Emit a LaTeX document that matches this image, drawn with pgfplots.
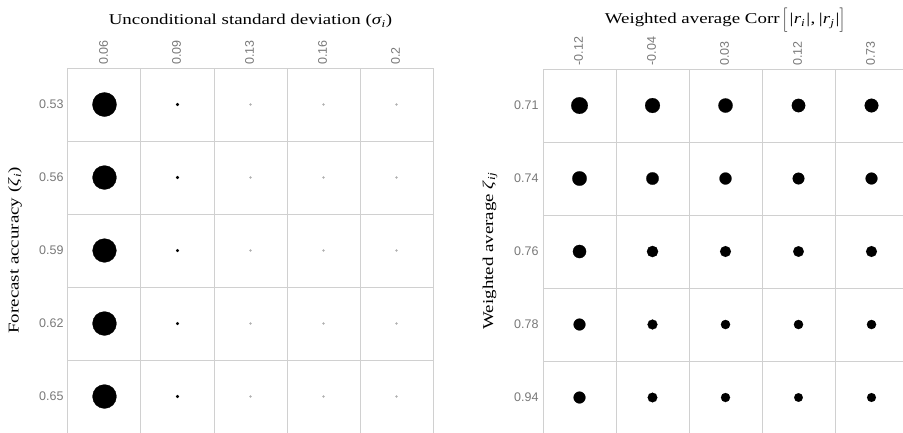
\documentclass[border=0pt]{standalone}
\usepackage{fontspec}
\setmainfont{Liberation Serif}
\newfontfamily\labelfont[FakeStretch=1.26]{Liberation Serif}
\newfontfamily\ticksf{Liberation Sans}
\usepackage{pgfplots}
\pgfplotsset{compat=1.18}
\usepackage{pgfplotstable}

\definecolor{gridgray}{RGB}{208,208,208}
\definecolor{tickgray}{RGB}{120,120,120}
\definecolor{dotgray}{RGB}{175,175,175}

% tall square bracket centred on the math axis
\newcommand\tallbr[1]{\left#1\vcenter{\hbox{\rule{0pt}{20pt}}}\right.}

% bubble radii (pt) per cell: x = column index, y = row index
\pgfplotstableread{
x y r
0 0 12.1
0 1 12.0
0 2 11.9
0 3 12.0
0 4 12.0
1 0 1.6
1 1 1.6
1 2 1.5
1 3 1.5
1 4 1.6
}\leftblack
\pgfplotstableread{
x y r
2 0 1.1
2 1 1.1
2 2 1.1
2 3 1.1
2 4 1.1
3 0 1.1
3 1 1.1
3 2 1.1
3 3 1.1
3 4 1.1
4 0 1.1
4 1 1.1
4 2 1.1
4 3 1.1
4 4 1.1
}\leftgray
\pgfplotstableread{
x y r
0 0 8.3
1 0 7.4
2 0 7.1
3 0 6.7
4 0 6.8
0 1 7.2
1 1 6.2
2 1 6.0
3 1 5.8
4 1 5.9
0 2 6.6
1 2 5.6
2 2 5.4
3 2 5.3
4 2 5.4
0 3 5.9
1 3 4.9
2 3 4.6
3 3 4.6
4 3 4.6
0 4 5.9
1 4 4.8
2 4 4.5
3 4 4.3
4 4 4.4
}\rightblack

\pgfplotsset{
  bubblegrid/.style={
    scale only axis,
    width=365pt, height=372.3pt,
    xmin=-0.5, xmax=4.5, ymin=-0.5, ymax=4.6,
    y dir=reverse,
    xtick={0,1,2,3,4}, ytick={0,1,2,3,4},
    minor xtick={0.5,1.5,2.5,3.5}, minor ytick={0.5,1.5,2.5,3.5},
    xminorgrids, yminorgrids,
    minor grid style={draw=gridgray, line width=1pt},
    axis line style={draw=gridgray, line width=1pt},
    major tick length=0pt, minor tick length=0pt,
    xticklabel pos=upper,
    tick label style={font=\ticksf\fontsize{12.5}{12.5}\selectfont, text=tickgray},
    xticklabel style={rotate=90, anchor=west, yshift=1pt},
    yticklabel style={anchor=east, xshift=-1pt},
    clip=false,
  },
  bubbles/.style={
    scatter, only marks, mark=*,
    point meta=explicit,
    scatter/use mapped color={draw=#1, fill=#1},
    mark options={draw=#1, fill=#1, line width=0.2pt},
    visualization depends on={\thisrow{r} \as \rad},
    scatter/@pre marker code/.append style={/tikz/mark size=\rad},
  },
}

\begin{document}
\begin{tikzpicture}
\useasboundingbox (0,0) rectangle (903pt,-433pt);
\clip (0,0) rectangle (903pt,-433pt);

% left panel: forecast accuracy vs. unconditional standard deviation
\begin{axis}[bubblegrid,
  at={(68pt,-68pt)}, anchor=north west,
  xticklabels={0.06,0.09,0.13,0.16,0.2},
  yticklabels={0.53,0.56,0.59,0.62,0.65}]
\addplot[bubbles=black] table[x=x, y=y, meta=r] {\leftblack};
\addplot[bubbles=dotgray] table[x=x, y=y, meta=r] {\leftgray};
\end{axis}

% right panel: weighted average accuracy vs. weighted average correlation
\begin{axis}[bubblegrid,
  at={(543pt,-69pt)}, anchor=north west,
  xticklabels={-0.12,-0.04,0.03,0.12,0.73},
  yticklabels={0.71,0.74,0.76,0.78,0.94}]
\addplot[bubbles=black] table[x=x, y=y, meta=r] {\rightblack};
\end{axis}

\begin{scope}[every node/.style={font=\labelfont\fontsize{15}{15}\selectfont, inner sep=0pt}]
\node[anchor=base] at (250.5pt,-25pt)
  {Unconditional standard deviation (\textit{σ}\textsubscript{\textit{i}})};
\node[anchor=base] at (725.5pt,-24pt)
  {Weighted average Corr\,$\tallbr[$\textit{|r}\textsubscript{\textit{i}}\textit{|},\,\textit{|r}\textsubscript{\textit{j}}\textit{|}$\tallbr]$};
\node[rotate=90] at (15pt,-250.5pt)
  {Forecast accuracy (\textit{ζ}\textsubscript{\textit{i}})};
\node[rotate=90] at (490pt,-251pt)
  {Weighted average \textit{ζ}\textsubscript{\textit{ij}}};
\end{scope}
\end{tikzpicture}
\end{document}
